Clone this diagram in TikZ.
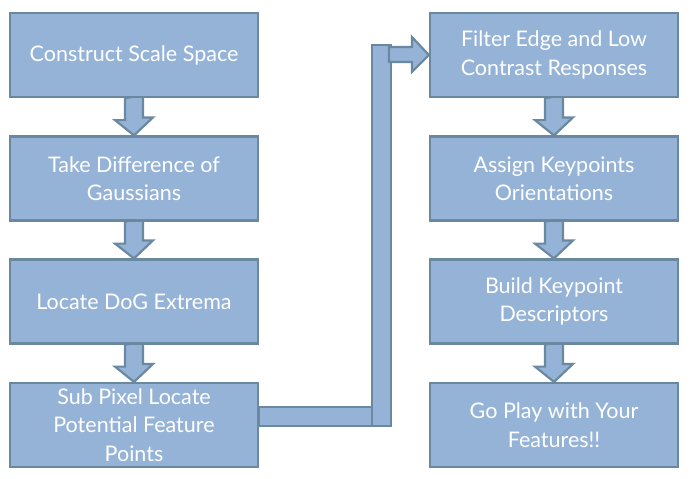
\documentclass[tikz,border=0pt]{standalone}
\usepackage{fontspec}
\setmainfont{Lato}
\usetikzlibrary{calc,backgrounds}
\definecolor{boxfill}{RGB}{149,179,215}
\definecolor{boxline}{RGB}{106,137,161}
\tikzset{
  stepbox/.style={draw=boxline, fill=boxfill, line width=2.2pt, minimum width=248pt, minimum height=84pt,
    inner sep=0pt, text=white, align=center, font=\fontsize{21.5}{28.5}\selectfont},
  conn/.style={draw=boxline, fill=boxfill, line width=2.2pt, line join=miter}
}
\newcommand\downarr[2]{%
  \draw[conn] (#1.south) ++(-9,0) -- ++(0,22) -- ++(-10,0) -- (#2.north) -- ++(19,-18) -- ++(-10,0) -- ++(0,-22) -- cycle;}
\begin{document}
\begin{tikzpicture}[x=1pt,y=-1pt]
\useasboundingbox (0,0) rectangle (697,479);
\node[stepbox] (a) at (134,55) {Construct Scale Space};
\node[stepbox] (b) at (134,178.5) {Take Difference of\\Gaussians};
\node[stepbox] (c) at (134,301.5) {Locate DoG Extrema};
\node[stepbox] (d) at (134,425) {Sub Pixel Locate\\Potential Feature\\Points};
\node[stepbox] (e) at (554,55) {Filter Edge and Low\\Contrast Responses};
\node[stepbox] (f) at (554,178.5) {Assign Keypoints\\Orientations};
\node[stepbox] (g) at (554,301.5) {Build Keypoint\\Descriptors};
\node[stepbox] (h) at (554,425) {Go Play with Your\\Features!!};
\begin{scope}[on background layer]
\downarr{a}{b}
\downarr{b}{c}
\downarr{c}{d}
\downarr{e}{f}
\downarr{f}{g}
\downarr{g}{h}
\draw[conn] ($(d.east)+(0,-18)$) rectangle ($(d.east)+(132,1)$);
\draw[conn] ($(e.west)+(-57,-10)$) rectangle ($(d.east)+(132,1)$);
\draw[conn] (e.west) -- ++(-17,-18) -- ++(0,10) -- ++(-23,0) -- ++(0,15) -- ++(23,0) -- ++(0,10) -- cycle;
\end{scope}
\end{tikzpicture}
\end{document}
